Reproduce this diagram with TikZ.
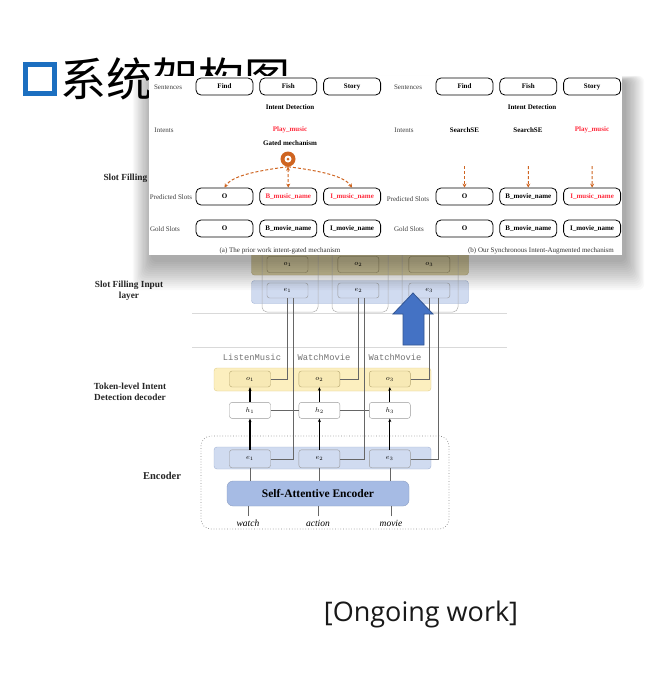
\documentclass[tikz,border=0pt]{standalone}
\usepackage{fontspec}
\usepackage{tikz}
\usetikzlibrary{arrows.meta,positioning}
\setmainfont{Liberation Serif}
\setmonofont{Liberation Mono}
\newfontfamily\cjkfont{Noto Sans CJK SC}
\newfontfamily\uifont{Open Sans}
\definecolor{titleblue}{HTML}{1C6FC0}
\definecolor{slotred}{HTML}{FF2D3F}
\definecolor{gateorange}{HTML}{CF6420}
\definecolor{tanfill}{HTML}{D9CFA4}
\definecolor{tanline}{HTML}{B9AC7C}
\definecolor{bluefill}{HTML}{D0DBF0}
\definecolor{blueline}{HTML}{A3B4D6}
\definecolor{yelfill}{HTML}{FCEFBF}
\definecolor{yelline}{HTML}{E3CF8B}
\definecolor{saefill}{HTML}{A6BBE4}
\definecolor{arrowblue}{HTML}{4472C4}
\newcommand{\pfont}{\fontsize{7}{8}\selectfont}
\newcommand{\lfont}{\fontsize{9.3}{11}\selectfont}

\begin{document}
\begin{tikzpicture}[x=1pt, y=-1pt,
  slotbox/.style={draw, rounded corners=5pt, line width=0.8pt, minimum width=57pt, minimum height=17pt, inner sep=0pt, font=\pfont\bfseries},
  rowlab/.style={font=\pfont, text=black!75, inner sep=0.5pt},
  headlab/.style={font=\pfont\bfseries, inner sep=0.5pt},
  gatearrow/.style={draw=gateorange, line width=1pt, dash pattern=on 3pt off 2pt},
  band/.style={draw, rounded corners=3pt, inner sep=0pt, minimum width=217pt},
  cell/.style={draw=black!40, rounded corners=2.5pt, inner sep=0pt, minimum width=41pt, minimum height=16pt, font=\fontsize{7.5}{8}\selectfont},
  sidelab/.style={font=\lfont\bfseries, align=center, text=black!85},
  intlab/.style={font=\ttfamily\fontsize{8.8}{10}\selectfont, text=black!55},
  wire/.style={draw=black!60, line width=0.6pt},
  uparrow/.style={-{Stealth[length=3.5pt,width=3pt]}, line width=1.1pt},
  colframe/.style={draw=black!30, rounded corners=5pt, line width=0.5pt},
  sepline/.style={draw=black!15, line width=0.6pt}
]
\useasboundingbox (0,0) rectangle (646,678);
\fill[white] (0,0) rectangle (646,678);

\node[band, fill=tanfill, draw=tanline, minimum height=45pt] (sdec) at (360,252.5) {};
\node[cell, fill=tanfill, draw=tanline!80!black] (sdo1) at (287.5,264.5) {$o_1$};
\node[cell, fill=tanfill, draw=tanline!80!black, right=29.5pt of sdo1] (sdo2) {$o_2$};
\node[cell, fill=tanfill, draw=tanline!80!black, right=29.5pt of sdo2] (sdo3) {$o_3$};
\node[band, fill=bluefill, draw=blueline, minimum height=23pt] (sin) at (360,292) {};
\node[cell, fill=bluefill, minimum height=15pt] (sie1) at (287.5,290.5) {$e_1$};
\node[cell, fill=bluefill, minimum height=15pt, right=29.5pt of sie1] (sie2) {$e_2$};
\node[cell, fill=bluefill, minimum height=15pt, right=29.5pt of sie2] (sie3) {$e_3$};
\draw[colframe] (262,230) rectangle (318,312);
\draw[colframe] (332,230) rectangle (388,312);
\draw[colframe] (402,230) rectangle (458,312);
\draw[sepline] (192,313) -- (507,313);
\draw[sepline] (192,347) -- (507,347);

\node[sidelab, anchor=west] (sdlab) at (100,178) {Slot Filling decoder};
\node[sidelab] (silab) at (129,291) {Slot Filling Input\\layer};
\node[sidelab] (tklab) at (130,392) {Token-level Intent\\Detection decoder};
\node[sidelab, font=\fontsize{10.5}{12}\selectfont\bfseries] (enlab) at (162,476) {Encoder};

\node[draw=black!45, dotted, line width=0.7pt, rounded corners=10pt, minimum width=248pt, minimum height=93pt] (encbox) at (325,482.5) {};
\node[band, fill=yelfill, draw=yelline, minimum height=23pt] (tok) at (322.5,379.5) {};
\node[cell, fill=yelfill!80!yelline, draw=yelline!80!black] (to1) at (250,379) {$o_1$};
\node[cell, fill=yelfill!80!yelline, draw=yelline!80!black, right=28pt of to1] (to2) {$o_2$};
\node[cell, fill=yelfill!80!yelline, draw=yelline!80!black, right=29pt of to2] (to3) {$o_3$};
\node[intlab] (il1) at (252,357) {ListenMusic};
\node[intlab] (il2) at (324,357) {WatchMovie};
\node[intlab] (il3) at (395,357) {WatchMovie};
\node[cell, fill=white, below=15pt of to1] (h1) {$h_1$};
\node[cell, fill=white, below=15pt of to2] (h2) {$h_2$};
\node[cell, fill=white, below=15pt of to3] (h3) {$h_3$};
\node[band, fill=bluefill, draw=blueline, minimum height=22pt] (enc) at (322.5,458) {};
\node[cell, fill=bluefill, minimum height=18pt, below=31pt of h1] (ee1) {$e_1$};
\node[cell, fill=bluefill, minimum height=18pt, below=31pt of h2] (ee2) {$e_2$};
\node[cell, fill=bluefill, minimum height=18pt, below=31pt of h3] (ee3) {$e_3$};
\node[draw=saefill!85!black, fill=saefill, rounded corners=6pt, minimum width=182pt, minimum height=25pt, font=\fontsize{11.5}{13}\selectfont\bfseries] (sae) at (318,493.5) {Self-Attentive Encoder};
\node[font=\fontsize{9.5}{11}\selectfont\itshape] (w1) at (248,523) {watch};
\node[font=\fontsize{9.5}{11}\selectfont\itshape] (w2) at (318,523) {action};
\node[font=\fontsize{9.5}{11}\selectfont\itshape] (w3) at (391,523) {movie};

\draw[wire] (to1.east) -| (sie1.south);
\draw[wire] (to2.east) -| (sie2.south);
\draw[wire] (to3.east) -| (sie3.south);
\draw[wire] (ee1.east) -| ([xshift=5.5pt]sie1.south);
\draw[wire] (ee2.east) -| ([xshift=6pt]sie2.south);
\draw[wire] (ee3.east) -| ([xshift=8.5pt]sie3.south);
\draw[wire] (h1) -- (h2);
\draw[wire] (h2) -- (h3);
\draw[uparrow] (h1) -- (to1);
\draw[uparrow] (h2) -- (to2);
\draw[uparrow] (h3) -- (to3);
\draw[uparrow] (ee1) -- (h1);
\draw[uparrow] (ee2) -- (h2);
\draw[uparrow] (ee3) -- (h3);
\draw[wire] (sae.north -| ee1) -- (ee1.south);
\draw[wire] (sae.north -| ee2) -- (ee2.south);
\draw[wire] (sae.north -| ee3) -- (ee3.south);
\draw[wire] (w1.north) -- (w1.north |- sae.south);
\draw[wire] (w2.north) -- (w2.north |- sae.south);
\draw[wire] (w3.north) -- (w3.north |- sae.south);

\draw[fill=arrowblue, draw=arrowblue!75!black, line width=0.8pt] (413,293) -- (433,314) -- (424,314) -- (424,345) -- (403,345) -- (403,314) -- (393,314) -- cycle;

\node[draw=titleblue, line width=5pt, minimum size=29pt, inner sep=0pt] (tsq) at (40,79) {};
\node[font=\cjkfont\fontsize{46}{50}\selectfont, inner sep=0pt, right=3pt of tsq] (title) {系统架构图};

\foreach \i in {0,...,14}
  \fill[black, opacity=0.025, rounded corners=6pt] ({151-1.3*\i},{80-0.3*\i}) rectangle ({626+1.3*\i},{262+2*\i});
\fill[white] (149,76) rectangle (622,255);

\node[slotbox] (fa1) at (224.5,86.5) {Find};
\node[slotbox, right=6pt of fa1] (fa2) {Fish};
\node[slotbox, right=6pt of fa2] (fa3) {Story};
\node[rowlab] (sna) at (168,87) {Sentences};
\node[headlab] (ida) at (290,107) {Intent Detection};
\node[rowlab] (ina) at (164,130) {Intents};
\node[headlab, text=slotred] (pma) at (290,130) {Play\_music};
\node[headlab] (gma) at (290,143) {Gated mechanism};
\node[circle, fill=gateorange, minimum size=15pt, inner sep=0pt] (gate) at (288,159) {};
\fill[white] (gate) circle (3.5);
\fill[gateorange] (gate) circle (1.5);
\node[slotbox] (pa1) at (224.5,196.5) {O};
\node[slotbox, right=6pt of pa1, text=slotred] (pa2) {B\_music\_name};
\node[slotbox, right=6pt of pa2, text=slotred] (pa3) {I\_music\_name};
\node[rowlab] (psa) at (171,197) {Predicted Slots};
\node[slotbox] (ga1) at (224.5,228.5) {O};
\node[slotbox, right=6pt of ga1] (ga2) {B\_movie\_name};
\node[slotbox, right=6pt of ga2] (ga3) {I\_movie\_name};
\node[rowlab] (gsa) at (165,229) {Gold Slots};
\node[rowlab, text=black!80] (capa) at (280,251) {(a) The prior work intent-gated mechanism};
\draw[gatearrow, -{Stealth[length=4pt,width=4pt]}] (gate.south) .. controls (255,171) and (232,176) .. (pa1.north);
\draw[gatearrow, {Stealth[length=4pt,width=4pt]}-{Stealth[length=4pt,width=4pt]}] (gate.south) -- (pa2.north);
\draw[gatearrow, -{Stealth[length=4pt,width=4pt]}] (gate.south) .. controls (321,171) and (344,176) .. (pa3.north);

\node[slotbox] (fb1) at (464.5,86.5) {Find};
\node[slotbox, right=6pt of fb1] (fb2) {Fish};
\node[slotbox, right=6pt of fb2] (fb3) {Story};
\node[rowlab] (snb) at (408,87) {Sentences};
\node[headlab] (idb) at (532,107) {Intent Detection};
\node[rowlab] (inb) at (404,130) {Intents};
\node[headlab] (ib1) at (464.5,130) {SearchSE};
\node[headlab] (ib2) at (528,130) {SearchSE};
\node[headlab, text=slotred] (ib3) at (592,130) {Play\_music};
\node[slotbox] (pb1) at (464.5,196.5) {O};
\node[slotbox, right=6pt of pb1] (pb2) {B\_movie\_name};
\node[slotbox, right=6pt of pb2, text=slotred] (pb3) {I\_music\_name};
\node[rowlab] (psb) at (408,199) {Predicted Slots};
\node[slotbox] (gb1) at (464.5,228.5) {O};
\node[slotbox, right=6pt of gb1] (gb2) {B\_movie\_name};
\node[slotbox, right=6pt of gb2] (gb3) {I\_movie\_name};
\node[rowlab] (gsb) at (409,229) {Gold Slots};
\node[rowlab, text=black!80] (capb) at (541,251) {(b) Our Synchronous Intent-Augmented mechanism};
\coordinate (db1) at (464.5,166);
\coordinate (db2) at (528.3,166);
\coordinate (db3) at (592.1,166);
\draw[gatearrow, -{Stealth[length=4pt,width=4pt]}] (db1) -- (pb1.north);
\draw[gatearrow, -{Stealth[length=4pt,width=4pt]}] (db2) -- (pb2.north);
\draw[gatearrow, -{Stealth[length=4pt,width=4pt]}] (db3) -- (pb3.north);

\node[font=\uifont\fontsize{27}{30}\selectfont, text=black!90] (ongo) at (421,614) {[Ongoing work]};
\end{tikzpicture}
\end{document}
